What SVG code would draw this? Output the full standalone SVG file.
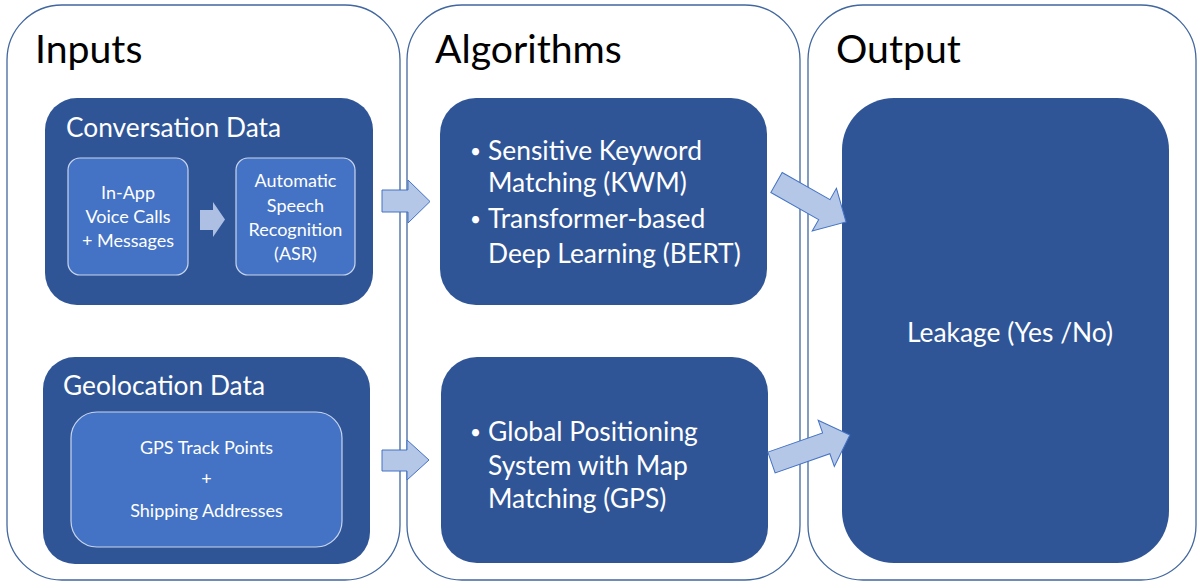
<svg xmlns="http://www.w3.org/2000/svg" width="1198" height="582" viewBox="0 0 1198 582">
  <style>
    .panel { fill: #ffffff; stroke: #41679f; stroke-width: 1.3; }
    .dark { fill: #2f5597; }
    .inner { fill: #4472c4; stroke: #c9d6ee; stroke-width: 1.2; }
    .block { fill: #b4c7e7; stroke: #4472c4; stroke-width: 1; }
    .mini { fill: #adc0e3; }
    text { font-family: Lato, "Liberation Sans", Arial, sans-serif; }
    .title { font-size: 39.2px; fill: #000000; }
    .head { font-size: 26.3px; fill: #ffffff; }
    .small { font-size: 18px; fill: #ffffff; text-anchor: middle; }
    .body { font-size: 26.4px; fill: #ffffff; }
    .bullet { font-size: 19px; fill: #ffffff; }
  </style>

  <!-- column panels -->
  <g id="panel-inputs">
    <rect class="panel" x="7" y="5" width="393" height="575" rx="55" ry="55"/>
    <text class="title" x="35" y="63">Inputs</text>
  </g>
  <g id="panel-algorithms">
    <rect class="panel" x="407" y="5" width="393" height="575" rx="55" ry="55"/>
    <text class="title" x="435" y="63">Algorithms</text>
  </g>
  <g id="panel-output">
    <rect class="panel" x="808" y="5" width="388" height="575" rx="55" ry="55"/>
    <text class="title" x="836" y="63">Output</text>
  </g>

  <!-- input groups -->
  <g id="conversation-data">
    <rect class="dark" x="45" y="98" width="328" height="207" rx="32" ry="32"/>
    <text class="head" x="66" y="137">Conversation Data</text>
  </g>
  <g id="in-app">
    <rect class="inner" x="68" y="158" width="120" height="117" rx="12" ry="12"/>
    <text class="small" x="128" y="199">In-App</text>
    <text class="small" x="128" y="223">Voice Calls</text>
    <text class="small" x="128" y="247">+ Messages</text>
  </g>
  <g id="asr">
    <rect class="inner" x="236" y="158" width="119" height="117" rx="12" ry="12"/>
    <text class="small" x="295.5" y="187">Automatic</text>
    <text class="small" x="295.5" y="211.5">Speech</text>
    <text class="small" x="295.5" y="236">Recognition</text>
    <text class="small" x="295.5" y="260">(ASR)</text>
  </g>

  <g id="geolocation-data">
    <rect class="dark" x="43" y="357" width="327" height="207" rx="32" ry="32"/>
    <text class="head" x="63" y="395">Geolocation Data</text>
  </g>
  <g id="gps-points">
    <rect class="inner" x="71" y="412" width="271" height="135" rx="26" ry="26"/>
    <text class="small" x="206.5" y="454">GPS Track Points</text>
    <text class="small" x="206.5" y="485">+</text>
    <text class="small" x="206.5" y="517">Shipping Addresses</text>
  </g>

  <!-- algorithm boxes -->
  <g id="text-algorithms">
    <rect class="dark" x="440" y="98" width="327" height="207" rx="36" ry="36"/>
    <text class="bullet" x="470" y="158">•</text>
    <text class="body" x="488" y="160">Sensitive Keyword</text>
    <text class="body" x="488" y="192">Matching (KWM)</text>
    <text class="bullet" x="470" y="226">•</text>
    <text class="body" x="488" y="228">Transformer-based</text>
    <text class="body" x="488" y="263">Deep Learning (BERT)</text>
  </g>
  <g id="gps-algorithm">
    <rect class="dark" x="441" y="357" width="327" height="206" rx="36" ry="36"/>
    <text class="bullet" x="470" y="439">•</text>
    <text class="body" x="488" y="441">Global Positioning</text>
    <text class="body" x="488" y="474.5">System with Map</text>
    <text class="body" x="488" y="508">Matching (GPS)</text>
  </g>

  <!-- output -->
  <g id="leakage">
    <rect class="dark" x="842" y="98" width="327" height="465" rx="52" ry="52"/>
    <text class="body" x="1010" y="342" text-anchor="middle">Leakage (Yes /No)</text>
  </g>

  <!-- block arrows -->
  <g id="connectors">
    <polygon class="mini" points="200,210 213,210 213,202 225,219.5 213,237 213,230 200,230"/>
    <polygon class="block" points="382,190 408,190 408,180 430,201.5 408,223 408,212 382,212"/>
    <polygon class="block" points="382,450 407,450 407,440 429,460 407,480 407,471 382,471"/>
    <polygon class="block" transform="translate(776.5,182.5) rotate(29.6)" points="0,-11.5 55,-11.5 55,-24.5 80,0 55,24.5 55,11.5 0,11.5"/>
    <polygon class="block" transform="translate(771.5,462.5) rotate(-19.3)" points="0,-11 58,-11 58,-24.5 83,0 58,24.5 58,11 0,11"/>
  </g>
</svg>
